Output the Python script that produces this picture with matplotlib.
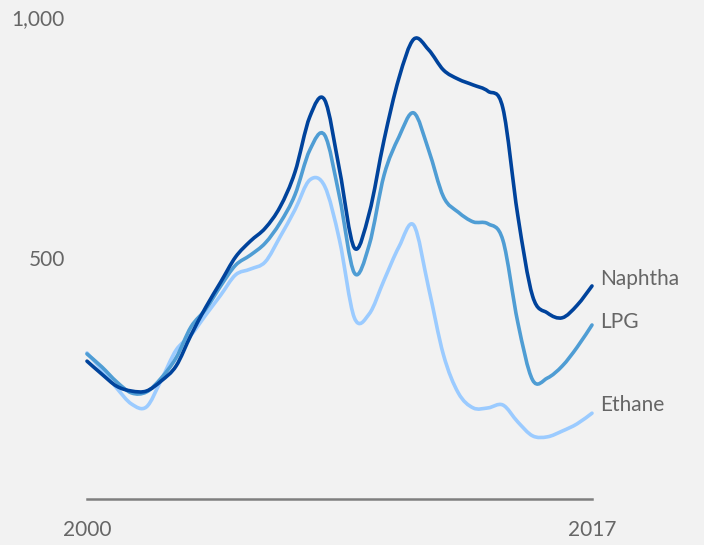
import numpy as np
import matplotlib.pyplot as plt
from matplotlib.path import Path
from matplotlib.patches import PathPatch

plt.rcParams['font.family'] = ['Lato', 'DejaVu Sans']

years = np.arange(2000, 2017.5, 0.5)

naphtha = [286, 259, 234, 224, 224, 245, 276, 340, 398, 450, 502, 535, 562, 606, 678,
           793, 828, 683, 521, 593, 745, 873, 954, 932, 890, 871, 859, 846, 811, 589,
           421, 386, 376, 402, 442]
lpg = [301, 274, 243, 220, 222, 251, 293, 357, 394, 442, 485, 506, 531, 573, 631,
       724, 755, 627, 469, 527, 672, 751, 801, 724, 627, 595, 575, 571, 537, 367,
       247, 251, 276, 315, 361]
ethane = [303, 268, 230, 197, 191, 247, 309, 340, 382, 423, 465, 477, 492, 544, 600,
          662, 649, 537, 376, 384, 454, 523, 568, 438, 299, 220, 189, 189, 195, 160,
          131, 129, 141, 156, 178]

series = [("Naphtha", naphtha, "#00439c", 5),
          ("LPG", lpg, "#4f9dd4", 2),
          ("Ethane", ethane, "#9bcbff", 6)]

bg = "#f2f2f2"
text_col = "#666666"


def smooth_path(x, y):
    # smoothed line (like a spreadsheet "smooth line"), bezier through each point
    p = np.column_stack([x, y]).astype(float)
    ext = np.vstack([p[0], p, p[-1]])
    verts = [p[0]]
    codes = [Path.MOVETO]
    for i in range(len(p) - 1):
        a, b, c, d = ext[i], ext[i + 1], ext[i + 2], ext[i + 3]
        verts += [b + (c - a) / 6, c - (d - b) / 6, c]
        codes += [Path.CURVE4] * 3
    return Path(verts, codes)


fig = plt.figure(figsize=(7.04, 5.45), dpi=100, facecolor=bg)
ax = fig.add_axes([87 / 704, 46 / 545, 505 / 704, 482 / 545], facecolor=bg)

for name, vals, col, dy in series[::-1]:
    ax.add_patch(PathPatch(smooth_path(years, vals), facecolor='none', edgecolor=col,
                           lw=2.6, capstyle='round', joinstyle='round', clip_on=False))
    ax.annotate(name, (years[-1], vals[-1]), xytext=(6, dy), textcoords='offset points',
                ha='left', va='center', fontsize=15, color=text_col)

ax.plot([2000, 2017], [0, 0], color="#7f7f7f", lw=1.8, clip_on=False)

ax.set_xlim(2000, 2017)
ax.set_ylim(0, 1000)
ax.set_xticks([2000, 2017])
ax.set_yticks([500, 1000])
ax.set_yticklabels(["500", "1,000"])
ax.tick_params(length=0, labelsize=15, labelcolor=text_col)
ax.tick_params(axis='y', pad=16)
ax.tick_params(axis='x', pad=15)
for s in ax.spines.values():
    s.set_visible(False)

fig.savefig("out.png", dpi=100, facecolor=bg)
